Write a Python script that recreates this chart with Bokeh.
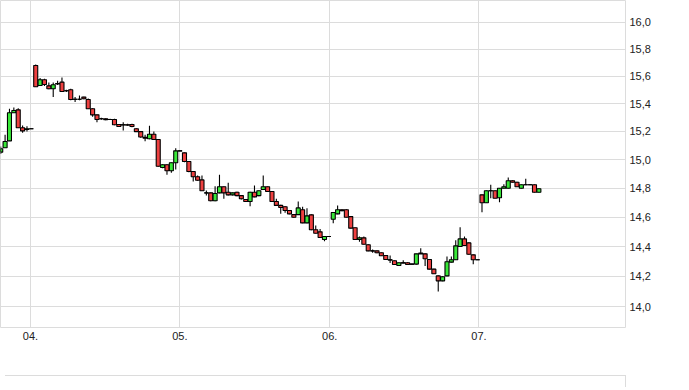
from bokeh.plotting import figure
from bokeh.models import Range1d, FixedTicker, CustomJSTickFormatter, ColumnDataSource, Div
from bokeh.layouts import column
from bokeh.embed import file_html
from bokeh.resources import INLINE

# ---- data (one candle per slot) ----
open_ = [15.053, 15.084, 15.133, 15.334, 15.355, 15.226, 15.215, 15.219,
         15.678, 15.532, 15.573, 15.529, 15.508, 15.543, 15.556, 15.493,
         15.500, 15.432, 15.432, 15.447, 15.430, 15.363, 15.319, 15.291,
         15.291, 15.286, 15.286, 15.250, 15.246, 15.248, 15.250, 15.219,
         15.199, 15.159, 15.148, 15.180, 15.143, 14.945, 14.964, 14.922,
         14.978, 15.062, 15.048, 14.987, 14.917, 14.880, 14.858, 14.768,
         14.768, 14.713, 14.768, 14.810, 14.772, 14.754, 14.772, 14.749,
         14.722, 14.708, 14.772, 14.749, 14.791, 14.810, 14.777, 14.708,
         14.681, 14.672, 14.646, 14.618, 14.618, 14.651, 14.561, 14.616,
         14.514, 14.500, 14.448, 14.468, 14.586, 14.623, 14.651, 14.651,
         14.604, 14.528, 14.448, 14.459, 14.412, 14.371, 14.371, 14.358,
         14.340, 14.311, 14.304, 14.273, 14.291, 14.291, 14.282, 14.282,
         14.351, 14.351, 14.313, 14.248, 14.203, 14.170, 14.203, 14.295,
         14.311, 14.400, 14.452, 14.425, 14.344, 14.311, 14.754, 14.699,
         14.782, 14.782, 14.734, 14.800, 14.800, 14.852, 14.842, 14.800,
         14.824, 14.824, 14.824, 14.772]
high = [15.093, 15.176, 15.363, 15.372, 15.367, 15.243, 15.237, 15.219,
        15.686, 15.586, 15.580, 15.553, 15.553, 15.566, 15.590, 15.500,
        15.507, 15.447, 15.459, 15.450, 15.437, 15.366, 15.322, 15.298,
        15.295, 15.290, 15.290, 15.252, 15.265, 15.255, 15.255, 15.222,
        15.202, 15.176, 15.240, 15.199, 15.146, 14.968, 14.968, 14.980,
        15.081, 15.062, 15.050, 14.990, 14.920, 14.889, 14.889, 14.784,
        14.770, 14.814, 14.894, 14.812, 14.838, 14.770, 14.775, 14.752,
        14.725, 14.775, 14.819, 14.785, 14.889, 14.812, 14.780, 14.727,
        14.685, 14.675, 14.650, 14.620, 14.708, 14.672, 14.662, 14.620,
        14.543, 14.520, 14.470, 14.468, 14.635, 14.681, 14.655, 14.655,
        14.606, 14.530, 14.468, 14.468, 14.415, 14.380, 14.373, 14.360,
        14.342, 14.340, 14.306, 14.293, 14.308, 14.295, 14.285, 14.352,
        14.389, 14.355, 14.315, 14.250, 14.205, 14.200, 14.333, 14.333,
        14.443, 14.531, 14.468, 14.430, 14.346, 14.311, 14.756, 14.785,
        14.824, 14.785, 14.802, 14.828, 14.875, 14.855, 14.845, 14.826,
        14.866, 14.826, 14.826, 14.798]
low = [15.040, 15.084, 15.133, 15.334, 15.226, 15.190, 15.200, 15.219,
       15.522, 15.532, 15.527, 15.505, 15.447, 15.535, 15.485, 15.485,
       15.425, 15.411, 15.425, 15.432, 15.363, 15.305, 15.265, 15.284,
       15.280, 15.282, 15.245, 15.232, 15.206, 15.240, 15.230, 15.199,
       15.155, 15.131, 15.145, 15.140, 14.950, 14.940, 14.894, 14.908,
       14.931, 15.062, 14.982, 14.912, 14.847, 14.852, 14.780, 14.750,
       14.710, 14.710, 14.765, 14.727, 14.750, 14.750, 14.745, 14.722,
       14.704, 14.676, 14.738, 14.745, 14.788, 14.775, 14.705, 14.679,
       14.623, 14.630, 14.620, 14.597, 14.615, 14.558, 14.558, 14.511,
       14.488, 14.458, 14.436, 14.468, 14.558, 14.620, 14.641, 14.598,
       14.522, 14.445, 14.432, 14.414, 14.369, 14.358, 14.355, 14.336,
       14.311, 14.290, 14.277, 14.270, 14.287, 14.277, 14.280, 14.280,
       14.350, 14.269, 14.246, 14.215, 14.099, 14.168, 14.200, 14.293,
       14.310, 14.398, 14.405, 14.345, 14.281, 14.311, 14.634, 14.697,
       14.731, 14.730, 14.703, 14.798, 14.798, 14.840, 14.808, 14.798,
       14.822, 14.822, 14.770, 14.770]
close = [15.077, 15.128, 15.334, 15.350, 15.226, 15.204, 15.219, 15.219,
         15.522, 15.573, 15.539, 15.508, 15.537, 15.546, 15.488, 15.493,
         15.430, 15.432, 15.432, 15.435, 15.363, 15.319, 15.286, 15.291,
         15.284, 15.286, 15.248, 15.235, 15.248, 15.246, 15.235, 15.199,
         15.160, 15.152, 15.180, 15.143, 14.954, 14.964, 14.922, 14.978,
         15.062, 15.062, 14.987, 14.917, 14.880, 14.856, 14.782, 14.768,
         14.713, 14.763, 14.810, 14.768, 14.754, 14.768, 14.749, 14.727,
         14.708, 14.772, 14.740, 14.782, 14.810, 14.777, 14.708, 14.681,
         14.667, 14.646, 14.623, 14.600, 14.664, 14.561, 14.609, 14.514,
         14.490, 14.461, 14.468, 14.468, 14.632, 14.651, 14.644, 14.600,
         14.525, 14.448, 14.459, 14.416, 14.371, 14.371, 14.358, 14.338,
         14.313, 14.310, 14.279, 14.291, 14.290, 14.279, 14.282, 14.351,
         14.356, 14.318, 14.248, 14.217, 14.170, 14.197, 14.298, 14.311,
         14.405, 14.452, 14.407, 14.348, 14.311, 14.311, 14.699, 14.782,
         14.782, 14.731, 14.800, 14.810, 14.852, 14.842, 14.810, 14.824,
         14.824, 14.824, 14.772, 14.796]
month_pos = [6.8, 40.95, 75.2, 109.3]
month_labels = ["04.", "05.", "06.", "07."]
price_ticks = [14.0, 14.2, 14.4, 14.6, 14.8, 15.0, 15.2, 15.4, 15.6, 15.8, 16.0]

GREEN = "#38e838"
RED = "#ee4040"
GRID = "#dcdcdc"
FONT = "Liberation Sans"

idx = list(range(len(open_)))
colors = [GREEN if c > o else RED for o, c in zip(open_, close)]
src = ColumnDataSource(dict(x=idx, o=open_, h=high, l=low, c=close, col=colors))

BW = 0.92
dj = [i for i in idx if abs(open_[i] - close[i]) < 0.003]
dsrc = ColumnDataSource(dict(x0=[i - BW / 2 for i in dj], x1=[i + BW / 2 for i in dj],
                             y=[close[i] for i in dj]))

p1 = figure(width=680, height=370, y_axis_type="log", y_axis_location="right",
            x_range=Range1d(-0.05, 142.8), y_range=Range1d(13.863, 16.164),
            output_backend="svg", toolbar_location=None,
            min_border_left=0, min_border_top=0, min_border_right=55, min_border_bottom=43)

p1.segment(x0="x", y0="h", x1="x", y1="l", line_color="black", line_width=1.1, source=src)
p1.vbar(x="x", width=BW, top="o", bottom="c", fill_color="col", line_color="black",
        line_width=1.1, source=src)
p1.segment(x0="x0", y0="y", x1="x1", y1="y", line_color="black", line_width=1.1, source=dsrc)

yt = FixedTicker(ticks=price_ticks)
p1.yaxis.ticker = yt
p1.ygrid.ticker = yt
p1.yaxis.formatter = CustomJSTickFormatter(code="return tick.toFixed(1).replace('.', ',');")
xt = FixedTicker(ticks=month_pos)
p1.xaxis.ticker = xt
p1.xgrid.ticker = xt
p1.xaxis.formatter = CustomJSTickFormatter(
    args=dict(pos=month_pos, lab=month_labels),
    code="const i = pos.indexOf(tick); return i >= 0 ? lab[i] : '';")

for ax in p1.axis:
    ax.axis_line_color = None
    ax.major_tick_line_color = None
    ax.minor_tick_line_color = None
    ax.major_tick_out = 0
    ax.major_label_standoff = 4
    ax.major_label_text_font = FONT
    ax.major_label_text_font_size = "11px"
    ax.major_label_text_color = "#222222"

p1.xgrid.grid_line_color = GRID
p1.ygrid.grid_line_color = GRID
p1.outline_line_color = GRID
p1.background_fill_color = "white"
p1.border_fill_color = "white"

lower = Div(text="", width=621, height=12,
            styles={"border-top": f"1px solid {GRID}", "border-right": f"1px solid {GRID}",
                    "box-sizing": "border-box"})

p = column(p1, lower, spacing=0)

open("out.html", "w").write(file_html(p, INLINE))
